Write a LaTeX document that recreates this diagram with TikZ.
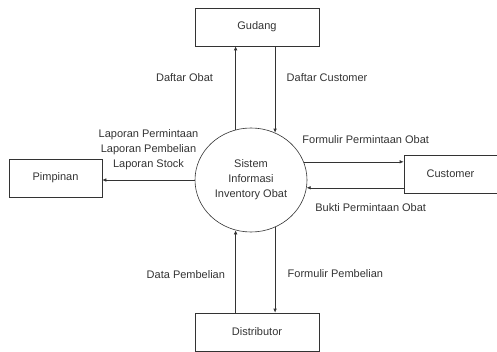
\documentclass[tikz,border=0pt]{standalone}
\usepackage{fontspec}
\setmainfont{Liberation Sans}
\usetikzlibrary{arrows.meta,shapes.geometric}

\tikzset{
  entity/.style={draw, line width=0.6pt, minimum width=124pt, minimum height=38pt},
  process/.style={draw, ellipse, line width=0.6pt, minimum width=112pt, minimum height=104pt, inner sep=0pt, align=center},
  flow/.style={line width=0.6pt, -{Latex[length=4pt,width=3.5pt]}},
}

\begin{document}
\begin{tikzpicture}[x=1pt, y=-1pt, font=\fontsize{11}{15}\selectfont, color=black!80]
  \useasboundingbox (0,0) rectangle (497,352);
  \node[entity] (gudang) at (257,27) {Gudang};
  \node[entity, minimum width=93pt] (pimpinan) at (55.5,178) {Pimpinan};
  \node[entity, minimum width=93pt] (customer) at (450.5,174) {Customer};
  \node[entity] (distributor) at (257,332) {Distributor};
  \node[process] (sistem) at (251,180) {Sistem\\Informasi\\Inventory Obat};

  % gudang
  \draw[flow] (sistem.107) -- node[pos=0.63, left=19pt]{Daftar Obat} (sistem.107 |- gudang.south);
  \draw[flow] (sistem.63 |- gudang.south) -- node[pos=0.36, right=8pt]{Daftar Customer} (sistem.63);
  % pimpinan
  \draw[flow] (sistem.west) -- node[midway, above=6.5pt, align=center]{Laporan Permintaan\\Laporan Pembelian\\Laporan Stock} (sistem.west -| pimpinan.east);
  % customer
  \draw[flow] (sistem.19) -- node[pos=0.62, above=15pt]{Formulir Permintaan Obat} (sistem.19 -| customer.west);
  \draw[flow] (sistem.-8 -| customer.west) -- node[pos=0.34, below=12pt]{Bukti Permintaan Obat} (sistem.-8);
  % distributor
  \draw[flow] (sistem.-107 |- distributor.north) -- node[pos=0.46, left=7pt]{Data Pembelian} (sistem.-107);
  \draw[flow] (sistem.-63) -- node[pos=0.54, right=9pt]{Formulir Pembelian} (sistem.-63 |- distributor.north);
\end{tikzpicture}
\end{document}
